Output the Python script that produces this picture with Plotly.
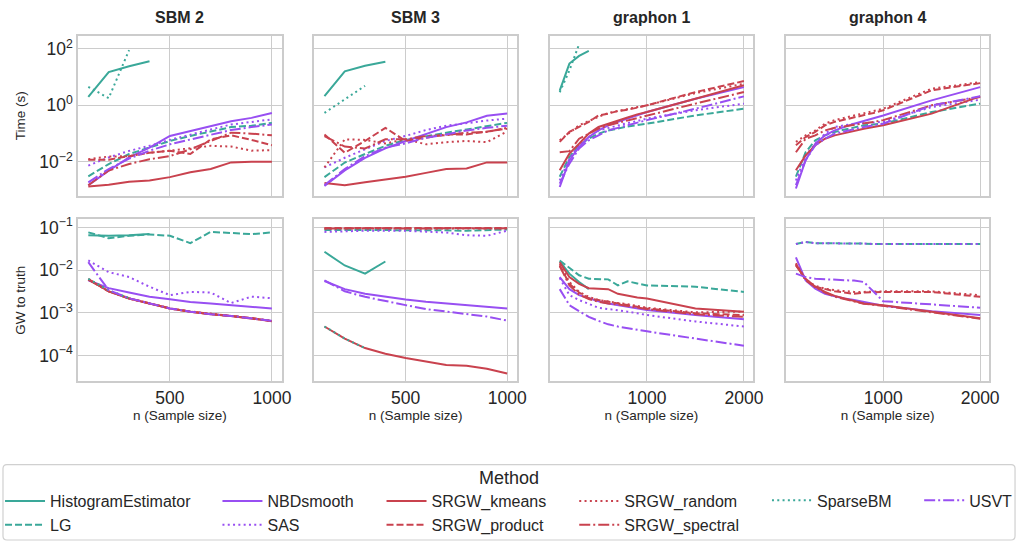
import plotly.graph_objects as go

# ---------------- data ----------------
N_SBM = [100, 200, 300, 400, 500, 600, 700, 800, 900, 1000]
N_GRAPHON = [100, 200, 300, 400, 500, 600, 700, 800, 900, 1000, 1500, 2000]

PANEL_TITLES = ["SBM 2", "SBM 3", "graphon 1", "graphon 4"]
METHODS = ["HistogramEstimator", "LG", "NBDsmooth", "SAS", "SRGW_kmeans",
           "SRGW_product", "SRGW_random", "SRGW_spectral", "SparseBM", "USVT"]

TIME_TICK_EXP = [-2, 0, 2]
GW_TICK_EXP = [-4, -3, -2, -1]
SBM_XTICKS = [500, 1000]
GRAPHON_XTICKS = [1000, 2000]

SBM2_TIME = {
    "HistogramEstimator": [2.0, 15, 24, 36],
    "LG": [0.0031, 0.0084, 0.019, 0.032, 0.055, 0.083, 0.12, 0.17, 0.19, 0.24],
    "NBDsmooth": [0.0015, 0.0049, 0.0144, 0.032, 0.083, 0.123, 0.185, 0.275, 0.36, 0.54],
    "SAS": [0.0074, 0.0144, 0.0245, 0.037, 0.06, 0.094, 0.14, 0.21, 0.26, 0.32],
    "SRGW_kmeans": [0.00135, 0.00155, 0.002, 0.0022, 0.0029, 0.0043, 0.0056, 0.0096, 0.0102, 0.0102],
    "SRGW_product": [0.012, 0.012, 0.016, 0.021, 0.025, 0.019, 0.063, 0.087, 0.06, 0.039],
    "SRGW_random": [0.0125, 0.0155, 0.016, 0.021, 0.025, 0.03, 0.037, 0.035, 0.025, 0.026],
    "SRGW_spectral": [0.0015, 0.005, 0.0084, 0.0125, 0.016, 0.028, 0.055, 0.108, 0.1, 0.087],
    "SparseBM": [4.5, 1.8, 90],
    "USVT": [0.0019, 0.0056, 0.013, 0.025, 0.042, 0.063, 0.094, 0.134, 0.17, 0.21],
}
SBM3_TIME = {
    "HistogramEstimator": [2.1, 16, 25, 35],
    "LG": [0.0029, 0.0095, 0.019, 0.037, 0.06, 0.083, 0.108, 0.14, 0.18, 0.24],
    "NBDsmooth": [0.0014, 0.005, 0.014, 0.03, 0.055, 0.094, 0.17, 0.25, 0.43, 0.51],
    "SAS": [0.0064, 0.014, 0.028, 0.055, 0.083, 0.134, 0.19, 0.24, 0.29, 0.34],
    "SRGW_kmeans": [0.0018, 0.0015, 0.0019, 0.0024, 0.003, 0.0041, 0.0056, 0.0059, 0.0096, 0.0096],
    "SRGW_product": [0.094, 0.021, 0.055, 0.16, 0.055, 0.072, 0.094, 0.094, 0.12, 0.15],
    "SRGW_random": [0.0064, 0.063, 0.06, 0.045, 0.063, 0.042, 0.05, 0.055, 0.05, 0.12],
    "SRGW_spectral": [0.082, 0.035, 0.03, 0.063, 0.063, 0.082, 0.089, 0.108, 0.114, 0.16],
    "SparseBM": [0.54, 1.6, 4.9],
    "USVT": [0.0015, 0.0056, 0.016, 0.032, 0.045, 0.072, 0.094, 0.13, 0.16, 0.19],
}
GRAPHON1_TIME = {
    "HistogramEstimator": [3.3, 30, 56, 84],
    "LG": [0.003, 0.015, 0.039, 0.066, 0.1, 0.13, 0.15, 0.18, 0.2, 0.225, 0.44, 0.76],
    "NBDsmooth": [0.0013, 0.0115, 0.034, 0.076, 0.13, 0.197, 0.26, 0.34, 0.44, 0.58, 1.72, 4.4],
    "SAS": [0.0022, 0.013, 0.039, 0.076, 0.13, 0.16, 0.197, 0.235, 0.28, 0.34, 0.67, 1.15],
    "SRGW_kmeans": [0.0051, 0.0196, 0.044, 0.1, 0.172, 0.225, 0.30, 0.37, 0.48, 0.58, 1.72, 5.1],
    "SRGW_product": [0.051, 0.115, 0.172, 0.26, 0.44, 0.51, 0.63, 0.7, 0.83, 1.0, 2.95, 7.2],
    "SRGW_random": [0.058, 0.105, 0.197, 0.28, 0.39, 0.54, 0.63, 0.76, 0.87, 1.0, 2.7, 5.8],
    "SRGW_spectral": [0.022, 0.024, 0.066, 0.1, 0.15, 0.197, 0.24, 0.30, 0.36, 0.44, 1.15, 2.95],
    "SparseBM": [2.9, 17, 145],
    "USVT": [0.0017, 0.0087, 0.03, 0.058, 0.087, 0.13, 0.16, 0.197, 0.24, 0.30, 0.76, 2.08],
}
GRAPHON4_TIME = {
    "LG": [0.003, 0.022, 0.058, 0.087, 0.115, 0.14, 0.172, 0.197, 0.21, 0.225, 0.58, 1.15],
    "NBDsmooth": [0.00115, 0.0115, 0.044, 0.087, 0.13, 0.172, 0.225, 0.28, 0.36, 0.44, 1.5, 4.4],
    "SAS": [0.0022, 0.017, 0.044, 0.1, 0.172, 0.197, 0.225, 0.235, 0.25, 0.26, 0.87, 1.58],
    "SRGW_kmeans": [0.0051, 0.017, 0.039, 0.066, 0.087, 0.105, 0.13, 0.15, 0.172, 0.197, 0.51, 2.08],
    "SRGW_product": [0.039, 0.076, 0.115, 0.197, 0.26, 0.31, 0.37, 0.44, 0.54, 0.67, 3.4, 6.1],
    "SRGW_random": [0.051, 0.087, 0.13, 0.225, 0.30, 0.36, 0.44, 0.51, 0.63, 0.76, 3.9, 6.6],
    "SRGW_spectral": [0.022, 0.066, 0.087, 0.13, 0.16, 0.18, 0.197, 0.225, 0.26, 0.30, 1.0, 1.97],
    "USVT": [0.0015, 0.0115, 0.039, 0.066, 0.1, 0.12, 0.15, 0.172, 0.197, 0.225, 1.0, 2.08],
}

SBM2_GW = {
    "HistogramEstimator": [0.066, 0.064, 0.066, 0.070],
    "LG": [0.077, 0.056, 0.064, 0.069, 0.064, 0.043, 0.079, 0.074, 0.070, 0.077],
    "NBDsmooth": [0.0058, 0.0038, 0.003, 0.0024, 0.0021, 0.0018, 0.00166, 0.00152, 0.00139, 0.00127],
    "SAS": [0.0169, 0.009, 0.0069, 0.0041, 0.0026, 0.0031, 0.003, 0.0017, 0.0024, 0.0022],
    "SRGW_kmeans": [0.0061, 0.0032, 0.00217, 0.00166, 0.00127, 0.00107, 0.00093, 0.00085, 0.00075, 0.00064],
    "SRGW_product": [0.0062, 0.0032, 0.0022, 0.00167, 0.00128, 0.00107, 0.00093, 0.00085, 0.00076, 0.00064],
    "SRGW_random": [0.0061, 0.0033, 0.00218, 0.00166, 0.00127, 0.00108, 0.00094, 0.00085, 0.00075, 0.00065],
    "SRGW_spectral": [0.006, 0.0032, 0.00216, 0.00165, 0.00127, 0.00107, 0.00093, 0.00084, 0.00075, 0.00064],
    "SparseBM": [0.0063, 0.0034, 0.0022],
    "USVT": [0.0154, 0.0034, 0.0022, 0.00166, 0.00127, 0.00107, 0.00093, 0.00085, 0.00075, 0.00065],
}
SBM3_GW = {
    "HistogramEstimator": [0.027, 0.0129, 0.0083, 0.016],
    "LG": [0.088, 0.088, 0.088, 0.086, 0.086, 0.088, 0.086, 0.084, 0.086, 0.09],
    "NBDsmooth": [0.0056, 0.0036, 0.0028, 0.00238, 0.00206, 0.00182, 0.00166, 0.00152, 0.00139, 0.00127],
    "SAS": [0.079, 0.082, 0.084, 0.084, 0.084, 0.08, 0.076, 0.066, 0.064, 0.084],
    "SRGW_kmeans": [0.00048, 0.00025, 0.00015, 0.00011, 0.000088, 0.000074, 0.00006, 0.000058, 0.000049, 0.000038],
    "SRGW_product": [0.097, 0.097, 0.096, 0.097, 0.097, 0.096, 0.097, 0.097, 0.096, 0.097],
    "SRGW_random": [0.094, 0.095, 0.094, 0.094, 0.095, 0.094, 0.094, 0.095, 0.094, 0.095],
    "SRGW_spectral": [0.095, 0.096, 0.095, 0.096, 0.095, 0.096, 0.095, 0.096, 0.095, 0.096],
    "SparseBM": [0.00048, 0.00025, 0.00015],
    "USVT": [0.0058, 0.0032, 0.00238, 0.00188, 0.00152, 0.00123, 0.00107, 0.00093, 0.00082, 0.00066],
}
GRAPHON1_GW = {
    "HistogramEstimator": [0.016, 0.0083, 0.0053, 0.0036],
    "LG": [0.0169, 0.0112, 0.0076, 0.0063, 0.0063, 0.0061, 0.0044, 0.0055, 0.0049, 0.0044, 0.0041, 0.0031],
    "NBDsmooth": [0.0069, 0.0036, 0.0026, 0.00217, 0.00188, 0.00166, 0.00152, 0.00139, 0.00127, 0.00117, 0.00089, 0.00071],
    "SAS": [0.0066, 0.0026, 0.002, 0.00166, 0.00132, 0.00123, 0.00117, 0.00107, 0.00098, 0.00089, 0.00063, 0.00048],
    "SRGW_kmeans": [0.0154, 0.0069, 0.0048, 0.0038, 0.0037, 0.0036, 0.0028, 0.0025, 0.0023, 0.00217, 0.00127, 0.00107],
    "SRGW_product": [0.0129, 0.0048, 0.003, 0.0022, 0.002, 0.00182, 0.00166, 0.00152, 0.00139, 0.00127, 0.00098, 0.00089],
    "SRGW_random": [0.014, 0.0053, 0.0031, 0.00238, 0.002, 0.00182, 0.0017, 0.0016, 0.00147, 0.00132, 0.00103, 0.00107],
    "SRGW_spectral": [0.0125, 0.0044, 0.0027, 0.0021, 0.00182, 0.00166, 0.00158, 0.00147, 0.00132, 0.00123, 0.00093, 0.00081],
    "USVT": [0.0036, 0.00152, 0.0011, 0.00081, 0.00065, 0.00054, 0.00048, 0.00044, 0.0004, 0.00037, 0.00025, 0.00017],
}
GRAPHON4_GW = {
    "LG": [0.041, 0.046, 0.043, 0.043, 0.043, 0.043, 0.042, 0.042, 0.041, 0.041, 0.041, 0.041],
    "NBDsmooth": [0.02, 0.0058, 0.0037, 0.0028, 0.00246, 0.00217, 0.002, 0.00182, 0.00166, 0.00147, 0.0011, 0.00089],
    "SAS": [0.041, 0.046, 0.043, 0.043, 0.043, 0.043, 0.042, 0.042, 0.041, 0.041, 0.041, 0.041],
    "SRGW_kmeans": [0.0129, 0.0063, 0.0041, 0.0031, 0.0025, 0.00217, 0.00188, 0.00166, 0.00158, 0.00152, 0.00107, 0.00075],
    "SRGW_product": [0.014, 0.0058, 0.0041, 0.0036, 0.0032, 0.003, 0.0028, 0.003, 0.0031, 0.0031, 0.0031, 0.00238],
    "SRGW_random": [0.0145, 0.006, 0.0043, 0.0037, 0.0034, 0.0032, 0.0031, 0.0031, 0.0032, 0.0032, 0.0032, 0.0026],
    "SRGW_spectral": [0.0133, 0.0061, 0.004, 0.0030, 0.0024, 0.0021, 0.00182, 0.00164, 0.00155, 0.00147, 0.00103, 0.00073],
    "USVT": [0.0083, 0.0069, 0.0063, 0.0062, 0.0061, 0.0059, 0.0057, 0.0053, 0.0031, 0.00188, 0.00158, 0.00132],
}

# ---------------- style ----------------
TEAL, PURPLE, RED = "#3aa899", "#984ff2", "#c9424e"
COLOR = {"HistogramEstimator": TEAL, "LG": TEAL, "SparseBM": TEAL,
         "NBDsmooth": PURPLE, "SAS": PURPLE, "USVT": PURPLE,
         "SRGW_kmeans": RED, "SRGW_product": RED, "SRGW_random": RED, "SRGW_spectral": RED}
SOLID, DASHED, DOTTED, DASHDOT = "solid", "7px,3px", "2px,3.3px", "11px,3px,2px,3px"
DASH = {"HistogramEstimator": SOLID, "LG": DASHED, "NBDsmooth": SOLID, "SAS": DOTTED,
        "SRGW_kmeans": SOLID, "SRGW_product": DASHED, "SRGW_random": DOTTED,
        "SRGW_spectral": DASHDOT, "SparseBM": DOTTED, "USVT": DASHDOT}
LEGEND_OF = {"HistogramEstimator": "legend", "LG": "legend", "NBDsmooth": "legend2", "SAS": "legend2",
             "SRGW_kmeans": "legend3", "SRGW_product": "legend3", "SRGW_random": "legend4",
             "SRGW_spectral": "legend4", "SparseBM": "legend5", "USVT": "legend6"}

W, H = 1028, 542
FONT = "Liberation Sans, Arial, sans-serif"
TXT = "#262626"
GRID = "#cccccc"

X_PX = [(77, 283), (316, 521), (554, 760), (793, 999)]
Y_PX = [(32, 193), (217, 380)]

panels = [
    (N_SBM, SBM2_TIME, SBM2_GW),
    (N_SBM, SBM3_TIME, SBM3_GW),
    (N_GRAPHON, GRAPHON1_TIME, GRAPHON1_GW),
    (N_GRAPHON, GRAPHON4_TIME, GRAPHON4_GW),
]

fig = go.Figure()
shown = set()
for col, (n_vals, time_d, gw_d) in enumerate(panels):
    for row, d in enumerate([time_d, gw_d]):
        idx = row * 4 + col + 1
        xa = "x" if idx == 1 else f"x{idx}"
        ya = "y" if idx == 1 else f"y{idx}"
        for m in METHODS:
            if m not in d:
                continue
            vals = d[m]
            fig.add_trace(go.Scatter(
                x=n_vals[:len(vals)], y=vals, mode="lines", name=m,
                line=dict(color=COLOR[m], dash=DASH[m], width=2),
                xaxis=xa, yaxis=ya, legendgroup=m,
                showlegend=m not in shown, legend=LEGEND_OF[m],
                hoverinfo="skip"))
            shown.add(m)

layout = dict(
    width=W, height=H, margin=dict(l=0, r=0, t=0, b=0),
    paper_bgcolor="white", plot_bgcolor="white",
    font=dict(family=FONT, color=TXT, size=15),
    annotations=[], shapes=[],
)

for col in range(4):
    for row in range(2):
        idx = row * 4 + col + 1
        sfx = "" if idx == 1 else str(idx)
        x0, x1 = X_PX[col]
        y0, y1 = Y_PX[row]
        is_sbm = col < 2
        xaxis = dict(
            domain=[x0 / W, x1 / W], anchor=f"y{sfx}",
            range=[50, 1048] if is_sbm else [-5, 2095],
            tickvals=SBM_XTICKS if is_sbm else GRAPHON_XTICKS,
            showticklabels=(row == 1), ticks="",
            showgrid=True, gridcolor=GRID, gridwidth=1.2, zeroline=False,
            showline=True, mirror=True, linecolor=GRID, linewidth=1.6,
            tickfont=dict(size=17.5, color=TXT),
        )
        if row == 1:
            xaxis["title"] = dict(text="n (Sample size)", font=dict(size=13.5, color=TXT), standoff=4)
        exps = TIME_TICK_EXP if row == 0 else GW_TICK_EXP
        yaxis = dict(
            domain=[1 - y1 / H, 1 - y0 / H], anchor=f"x{sfx}", type="log",
            range=[-3.19, 2.46] if row == 0 else [-4.6, -0.81],
            tickvals=[10.0 ** e for e in exps],
            ticktext=["10<sup>" + (str(e) if e >= 0 else "\u2212" + str(-e)) + "</sup>" for e in exps],
            showticklabels=(col == 0), ticks="",
            showgrid=True, gridcolor=GRID, gridwidth=1.2, zeroline=False,
            showline=True, mirror=True, linecolor=GRID, linewidth=1.6,
            tickfont=dict(size=17.5, color=TXT),
        )
        if col == 0:
            yaxis["title"] = dict(text="Time (s)" if row == 0 else "GW to truth",
                                  font=dict(size=13.5, color=TXT), standoff=11)
        layout[f"xaxis{sfx}"] = xaxis
        layout[f"yaxis{sfx}"] = yaxis
    layout["annotations"].append(dict(
        text=f"<b>{PANEL_TITLES[col]}</b>", x=(X_PX[col][0] + X_PX[col][1]) / 2 / W,
        y=1 - 14 / H, xref="paper", yref="paper", showarrow=False,
        font=dict(size=16, color=TXT), xanchor="center", yanchor="middle"))

# legend frame (rounded) and title
bx0, bx1, by0, by1, r = 1 / W, 1025 / W, 1 - 540 / H, 1 - 464 / H, 4
rx, ry = r / W, r / H
frame_path = (f"M {bx0 + rx},{by0} L {bx1 - rx},{by0} Q {bx1},{by0} {bx1},{by0 + ry} "
              f"L {bx1},{by1 - ry} Q {bx1},{by1} {bx1 - rx},{by1} "
              f"L {bx0 + rx},{by1} Q {bx0},{by1} {bx0},{by1 - ry} "
              f"L {bx0},{by0 + ry} Q {bx0},{by0} {bx0 + rx},{by0} Z")
layout["shapes"].append(dict(type="path", xref="paper", yref="paper", path=frame_path,
                             line=dict(color="#d0d0d0", width=1.2), fillcolor="white", layer="below"))
layout["annotations"].append(dict(text="Method", x=513 / W, y=1 - 478 / H, xref="paper", yref="paper",
                                  showarrow=False, font=dict(size=18, color=TXT),
                                  xanchor="center", yanchor="middle"))

LEGEND_COL_PX = [3, 223, 389, 584, 779, 933]
LEGEND_COL_ITEMS = [2, 2, 2, 2, 1, 1]
for k, px in enumerate(LEGEND_COL_PX):
    name = "legend" if k == 0 else f"legend{k + 1}"
    if LEGEND_COL_ITEMS[k] == 2:
        pos = dict(y=0, yanchor="bottom")
    else:
        pos = dict(y=1 - 483 / H, yanchor="top")
    layout[name] = dict(x=(px - 5) / W, xanchor="left", orientation="v",
                        bgcolor="rgba(0,0,0,0)", borderwidth=0,
                        font=dict(size=16, color=TXT, family=FONT),
                        tracegroupgap=0, itemwidth=40, **pos)

fig.update_layout(**layout)
fig.write_html("out.html")
